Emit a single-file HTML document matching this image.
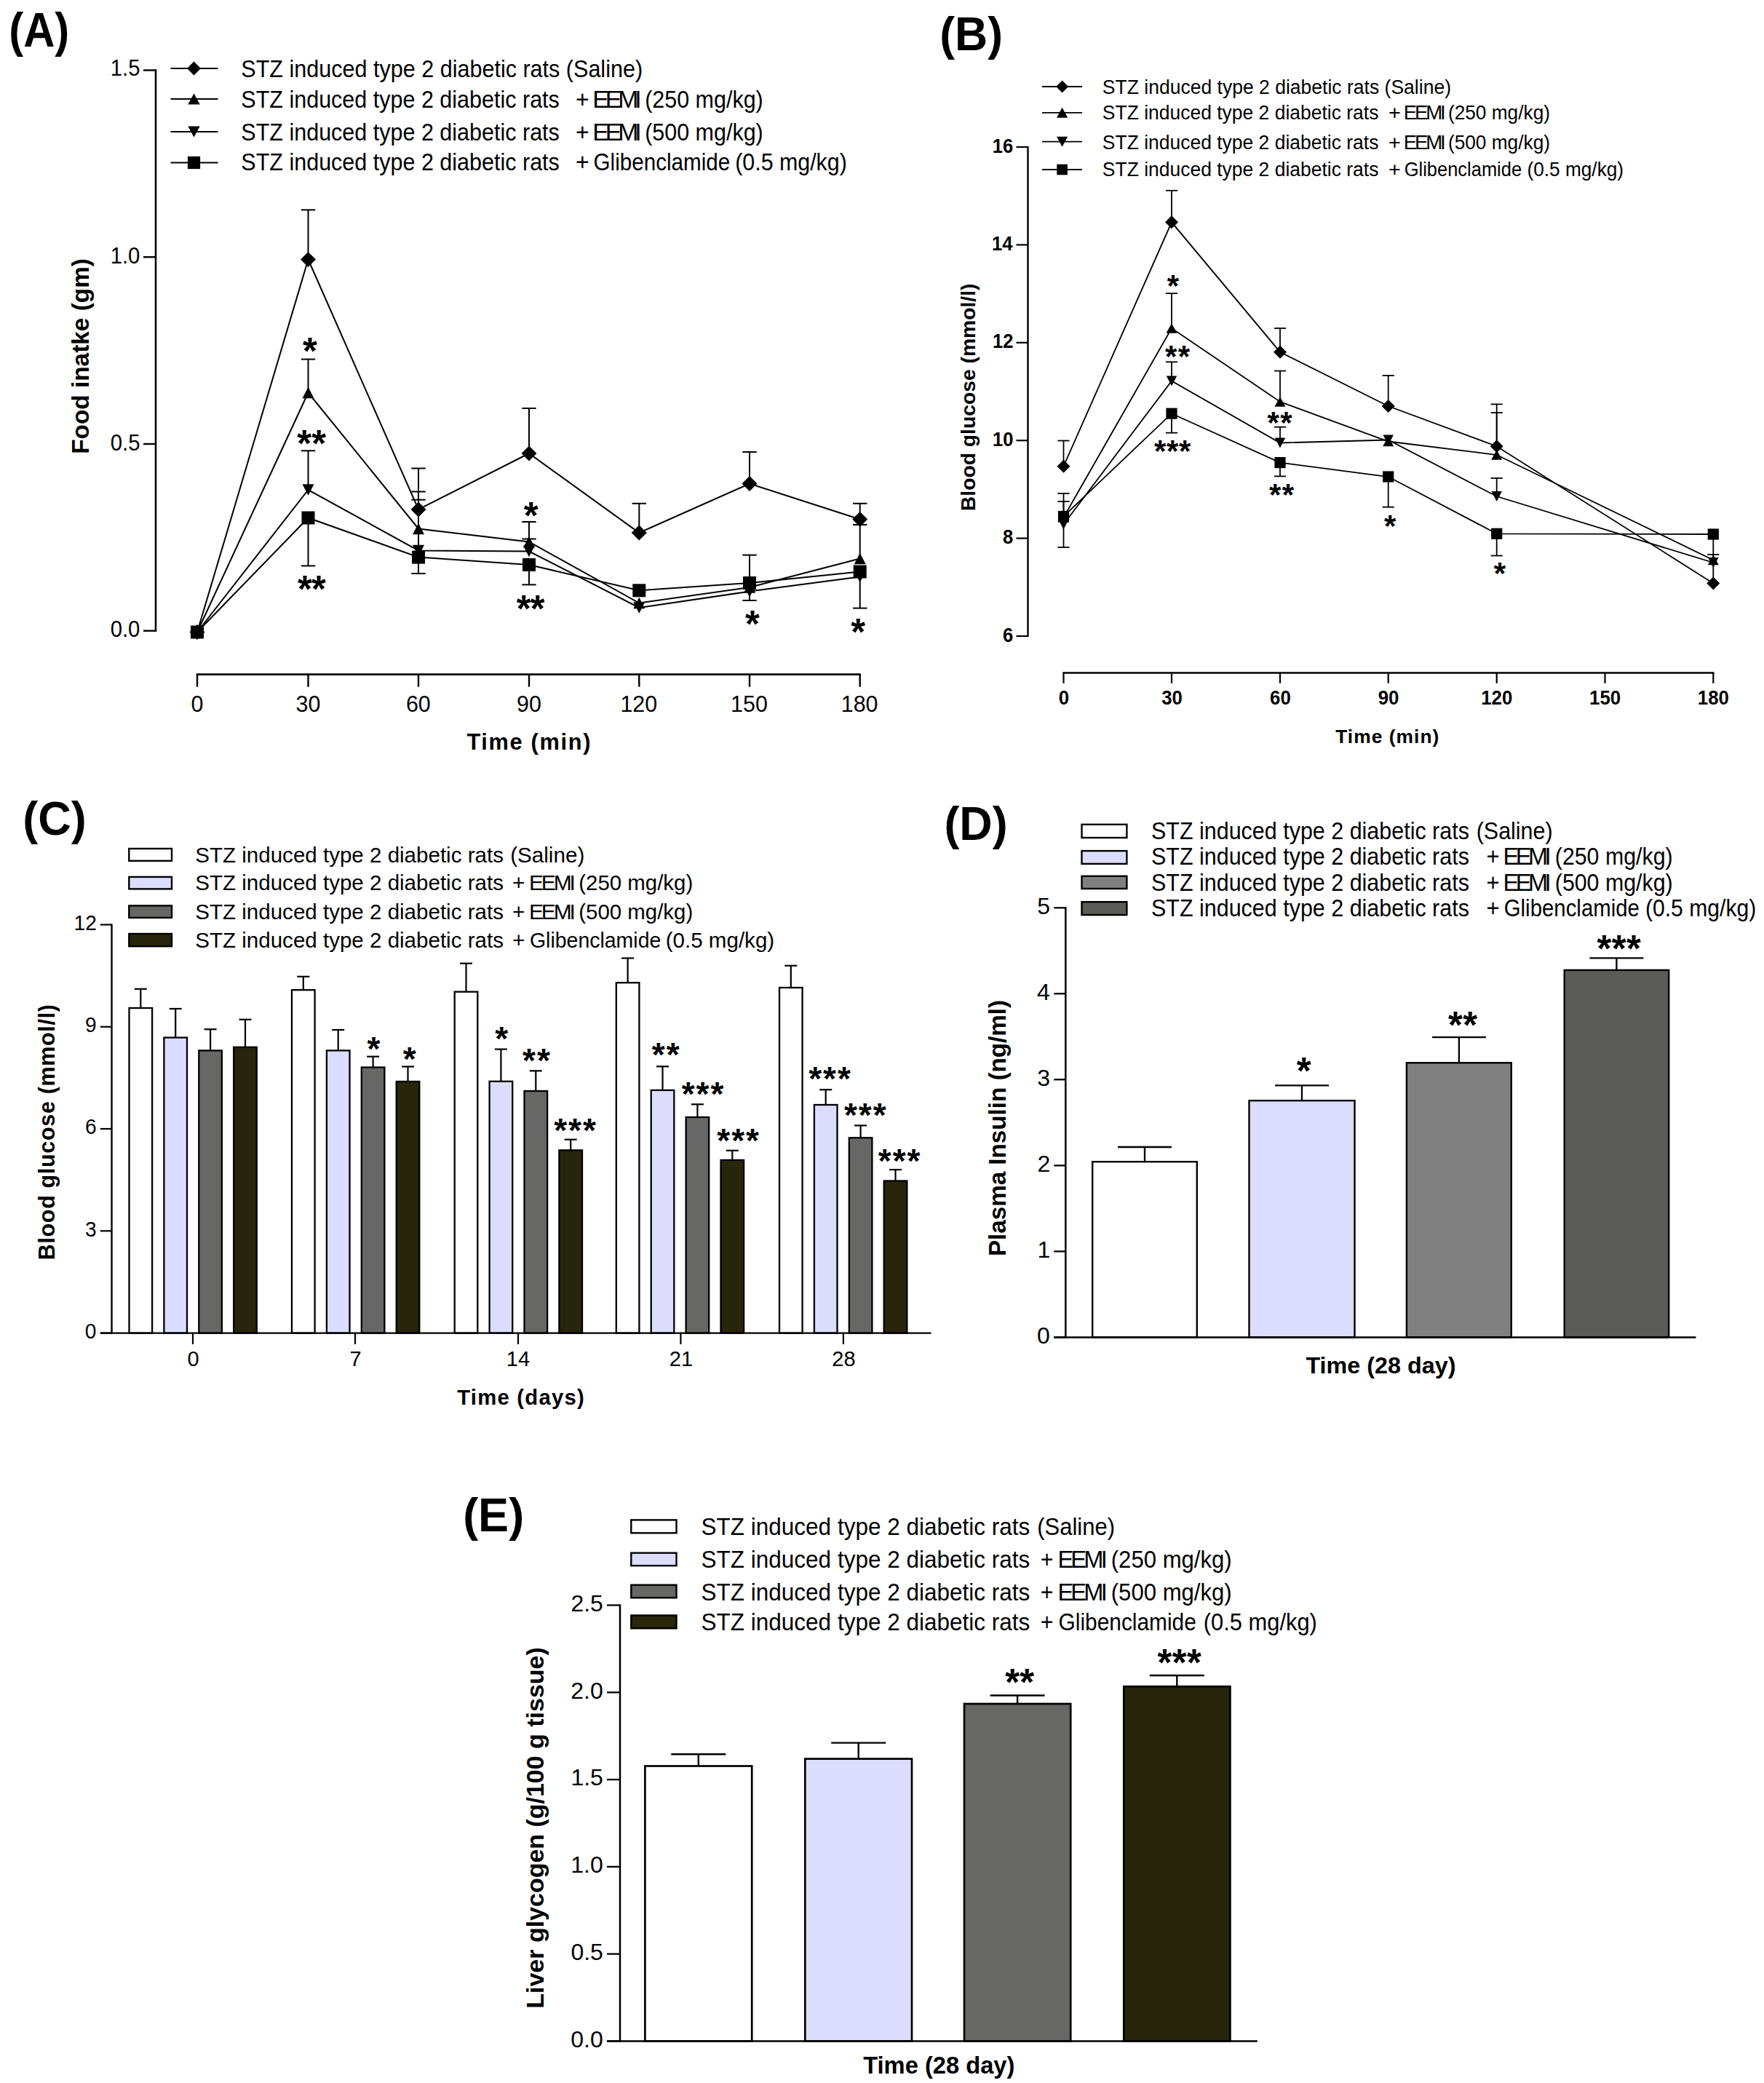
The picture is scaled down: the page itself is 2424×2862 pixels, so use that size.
<!DOCTYPE html>
<html lang="en">
<head>
<meta charset="utf-8">
<title>Figure: effects of EEMI in STZ induced type 2 diabetic rats</title>
<style>
html,body{margin:0;padding:0;background:#fff;}
body{width:2424px;height:2862px;overflow:hidden;}
svg{display:block;}
svg text{font-family:'Liberation Sans', Arial, sans-serif;fill:#000;stroke:none;white-space:pre;}
</style>
</head>
<body>
<svg width="2424" height="2862" viewBox="0 0 2424 2862" stroke="#000" fill="#000">
<rect x="0" y="0" width="2424" height="2862" fill="#fff" stroke="none"/>
<g id="panelA">
<text transform="translate(12.31 63.50) scale(0.8985 1)" font-size="66.52" font-weight="bold">(A)</text>
<line x1="214.0" y1="95.3" x2="214.0" y2="867.9" stroke-width="2.6"/>
<line x1="197.0" y1="866.7" x2="214.0" y2="866.7" stroke-width="2.4"/>
<line x1="197.0" y1="610.0" x2="214.0" y2="610.0" stroke-width="2.4"/>
<line x1="197.0" y1="353.2" x2="214.0" y2="353.2" stroke-width="2.4"/>
<line x1="197.0" y1="96.5" x2="214.0" y2="96.5" stroke-width="2.4"/>
<text transform="translate(151.63 875.40) scale(0.9150 1)" font-size="32.00">0.0</text>
<text transform="translate(151.77 618.67) scale(0.9150 1)" font-size="32.00">0.5</text>
<text transform="translate(151.63 361.93) scale(0.9150 1)" font-size="32.00">1.0</text>
<text transform="translate(151.77 103.70) scale(0.9150 1)" font-size="32.00">1.5</text>
<line x1="269.8" y1="926.6" x2="1182.9" y2="926.6" stroke-width="2.6"/>
<line x1="271.0" y1="926.6" x2="271.0" y2="943.7" stroke-width="2.4"/>
<line x1="423.5" y1="926.6" x2="423.5" y2="943.7" stroke-width="2.4"/>
<line x1="575.0" y1="926.6" x2="575.0" y2="943.7" stroke-width="2.4"/>
<line x1="727.0" y1="926.6" x2="727.0" y2="943.7" stroke-width="2.4"/>
<line x1="878.3" y1="926.6" x2="878.3" y2="943.7" stroke-width="2.4"/>
<line x1="1030.0" y1="926.6" x2="1030.0" y2="943.7" stroke-width="2.4"/>
<line x1="1181.7" y1="926.6" x2="1181.7" y2="943.7" stroke-width="2.4"/>
<text transform="translate(262.49 978.00) scale(0.9500 1)" font-size="32.00">0</text>
<text transform="translate(406.55 978.00) scale(0.9500 1)" font-size="32.00">30</text>
<text transform="translate(557.90 978.00) scale(0.9500 1)" font-size="32.00">60</text>
<text transform="translate(709.98 978.00) scale(0.9500 1)" font-size="32.00">90</text>
<text transform="translate(852.38 978.00) scale(0.9500 1)" font-size="32.00">120</text>
<text transform="translate(1004.08 978.00) scale(0.9500 1)" font-size="32.00">150</text>
<text transform="translate(1155.78 978.00) scale(0.9500 1)" font-size="32.00">180</text>
<text transform="translate(641.39 1030.00)" font-size="30.72" font-weight="bold" letter-spacing="1.699">Time (min)</text>
<text transform="translate(121.80 623.87) rotate(-90) scale(1.0104 1)" font-size="33.04" font-weight="bold">Food inatke (gm)</text>
<line x1="234.5" y1="94.0" x2="299.5" y2="94.0" stroke-width="2.0"/>
<line x1="234.5" y1="136.0" x2="299.5" y2="136.0" stroke-width="2.0"/>
<line x1="234.5" y1="181.0" x2="299.5" y2="181.0" stroke-width="2.0"/>
<line x1="234.5" y1="223.5" x2="299.5" y2="223.5" stroke-width="2.0"/>
<polygon points="257.0,94.0 266.5,84.5 276.0,94.0 266.5,103.5" stroke="none"/>
<polygon points="258.3,143.5 266.5,128.5 274.7,143.5" stroke="none"/>
<polygon points="258.3,173.5 266.5,188.5 274.7,173.5" stroke="none"/>
<rect x="257.9" y="214.9" width="17.2" height="17.2" stroke="none"/>
<text transform="translate(331.32 105.70) scale(0.9066 1)" font-size="33.71">STZ induced type 2 diabetic rats (Saline)</text>
<text transform="translate(331.33 147.80) scale(0.9054 1)" font-size="33.71">STZ induced type 2 diabetic rats</text>
<text transform="translate(790.90 147.80) scale(0.9479 1)" font-size="33.71">+</text>
<text transform="translate(814.30 147.80)" font-size="33.71" letter-spacing="-5.010">EEMI</text>
<text transform="translate(886.17 147.80) scale(0.9043 1)" font-size="33.71">(250 mg/kg)</text>
<text transform="translate(331.33 192.90) scale(0.9054 1)" font-size="33.71">STZ induced type 2 diabetic rats</text>
<text transform="translate(790.90 192.90) scale(0.9479 1)" font-size="33.71">+</text>
<text transform="translate(814.30 192.90)" font-size="33.71" letter-spacing="-5.010">EEMI</text>
<text transform="translate(886.17 192.90) scale(0.9043 1)" font-size="33.71">(500 mg/kg)</text>
<text transform="translate(331.33 233.70) scale(0.9054 1)" font-size="33.71">STZ induced type 2 diabetic rats</text>
<text transform="translate(790.90 233.70) scale(0.9479 1)" font-size="33.71">+</text>
<text transform="translate(815.52 233.70) scale(0.8794 1)" font-size="33.71">Glibenclamide</text>
<text transform="translate(1010.18 233.70) scale(0.9016 1)" font-size="33.71">(0.5 mg/kg)</text>
<line x1="423.5" y1="356.5" x2="423.5" y2="288.4" stroke-width="2.0"/>
<line x1="413.8" y1="288.4" x2="433.2" y2="288.4" stroke-width="2.0"/>
<line x1="575.0" y1="700.0" x2="575.0" y2="643.5" stroke-width="2.0"/>
<line x1="565.3" y1="643.5" x2="584.7" y2="643.5" stroke-width="2.0"/>
<line x1="727.0" y1="623.0" x2="727.0" y2="561.0" stroke-width="2.0"/>
<line x1="717.3" y1="561.0" x2="736.7" y2="561.0" stroke-width="2.0"/>
<line x1="878.3" y1="732.0" x2="878.3" y2="691.8" stroke-width="2.0"/>
<line x1="868.6" y1="691.8" x2="888.0" y2="691.8" stroke-width="2.0"/>
<line x1="1030.0" y1="664.6" x2="1030.0" y2="621.0" stroke-width="2.0"/>
<line x1="1020.3" y1="621.0" x2="1039.7" y2="621.0" stroke-width="2.0"/>
<line x1="1181.7" y1="713.5" x2="1181.7" y2="691.8" stroke-width="2.0"/>
<line x1="1172.0" y1="691.8" x2="1191.4" y2="691.8" stroke-width="2.0"/>
<line x1="423.5" y1="539.5" x2="423.5" y2="493.6" stroke-width="2.0"/>
<line x1="413.8" y1="493.6" x2="433.2" y2="493.6" stroke-width="2.0"/>
<line x1="575.0" y1="726.5" x2="575.0" y2="675.5" stroke-width="2.0"/>
<line x1="565.3" y1="675.5" x2="584.7" y2="675.5" stroke-width="2.0"/>
<line x1="727.0" y1="744.5" x2="727.0" y2="717.0" stroke-width="2.0"/>
<line x1="717.3" y1="717.0" x2="736.7" y2="717.0" stroke-width="2.0"/>
<line x1="1181.7" y1="767.5" x2="1181.7" y2="721.0" stroke-width="2.0"/>
<line x1="1172.0" y1="721.0" x2="1191.4" y2="721.0" stroke-width="2.0"/>
<line x1="423.5" y1="673.0" x2="423.5" y2="619.3" stroke-width="2.0"/>
<line x1="413.8" y1="619.3" x2="433.2" y2="619.3" stroke-width="2.0"/>
<line x1="575.0" y1="756.5" x2="575.0" y2="686.7" stroke-width="2.0"/>
<line x1="565.3" y1="686.7" x2="584.7" y2="686.7" stroke-width="2.0"/>
<line x1="727.0" y1="757.5" x2="727.0" y2="740.5" stroke-width="2.0"/>
<line x1="717.3" y1="740.5" x2="736.7" y2="740.5" stroke-width="2.0"/>
<line x1="1030.0" y1="812.6" x2="1030.0" y2="825.0" stroke-width="2.0"/>
<line x1="1020.3" y1="825.0" x2="1039.7" y2="825.0" stroke-width="2.0"/>
<line x1="423.5" y1="711.5" x2="423.5" y2="777.5" stroke-width="2.0"/>
<line x1="413.8" y1="777.5" x2="433.2" y2="777.5" stroke-width="2.0"/>
<line x1="575.0" y1="765.6" x2="575.0" y2="788.0" stroke-width="2.0"/>
<line x1="565.3" y1="788.0" x2="584.7" y2="788.0" stroke-width="2.0"/>
<line x1="727.0" y1="776.0" x2="727.0" y2="803.4" stroke-width="2.0"/>
<line x1="717.3" y1="803.4" x2="736.7" y2="803.4" stroke-width="2.0"/>
<line x1="1030.0" y1="801.0" x2="1030.0" y2="762.6" stroke-width="2.0"/>
<line x1="1020.3" y1="762.6" x2="1039.7" y2="762.6" stroke-width="2.0"/>
<line x1="1181.7" y1="785.5" x2="1181.7" y2="835.6" stroke-width="2.0"/>
<line x1="1172.0" y1="835.6" x2="1191.4" y2="835.6" stroke-width="2.0"/>
<polyline points="271.0,868.5 423.5,356.5 575.0,700.0 727.0,623.0 878.3,732.0 1030.0,664.6 1181.7,713.5" fill="none" stroke-width="2.0" stroke-linejoin="miter"/>
<polyline points="271.0,868.5 423.5,539.5 575.0,726.5 727.0,744.5 878.3,828.5 1030.0,807.0 1181.7,767.5" fill="none" stroke-width="2.0" stroke-linejoin="miter"/>
<polyline points="271.0,868.5 423.5,673.0 575.0,756.5 727.0,757.5 878.3,835.0 1030.0,812.6 1181.7,792.5" fill="none" stroke-width="2.0" stroke-linejoin="miter"/>
<polyline points="271.0,868.5 423.5,711.5 575.0,765.6 727.0,776.0 878.3,811.3 1030.0,801.0 1181.7,785.5" fill="none" stroke-width="2.0" stroke-linejoin="miter"/>
<polygon points="260.5,868.5 271.0,858.0 281.5,868.5 271.0,879.0" stroke="none"/>
<polygon points="413.0,356.5 423.5,346.0 434.0,356.5 423.5,367.0" stroke="none"/>
<polygon points="564.5,700.0 575.0,689.5 585.5,700.0 575.0,710.5" stroke="none"/>
<polygon points="716.5,623.0 727.0,612.5 737.5,623.0 727.0,633.5" stroke="none"/>
<polygon points="867.8,732.0 878.3,721.5 888.8,732.0 878.3,742.5" stroke="none"/>
<polygon points="1019.5,664.6 1030.0,654.1 1040.5,664.6 1030.0,675.1" stroke="none"/>
<polygon points="1171.2,713.5 1181.7,703.0 1192.2,713.5 1181.7,724.0" stroke="none"/>
<polygon points="263.0,876.2 271.0,860.8 279.0,876.2" stroke="none"/>
<polygon points="415.5,547.2 423.5,531.8 431.5,547.2" stroke="none"/>
<polygon points="567.0,734.2 575.0,718.8 583.0,734.2" stroke="none"/>
<polygon points="719.0,752.2 727.0,736.8 735.0,752.2" stroke="none"/>
<polygon points="870.3,836.2 878.3,820.8 886.3,836.2" stroke="none"/>
<polygon points="1022.0,814.8 1030.0,799.2 1038.0,814.8" stroke="none"/>
<polygon points="1173.7,775.2 1181.7,759.8 1189.7,775.2" stroke="none"/>
<polygon points="263.0,860.8 271.0,876.2 279.0,860.8" stroke="none"/>
<polygon points="415.5,665.2 423.5,680.8 431.5,665.2" stroke="none"/>
<polygon points="567.0,748.8 575.0,764.2 583.0,748.8" stroke="none"/>
<polygon points="719.0,749.8 727.0,765.2 735.0,749.8" stroke="none"/>
<polygon points="870.3,827.2 878.3,842.8 886.3,827.2" stroke="none"/>
<polygon points="1022.0,804.9 1030.0,820.4 1038.0,804.9" stroke="none"/>
<polygon points="1173.7,784.8 1181.7,800.2 1189.7,784.8" stroke="none"/>
<rect x="262.0" y="859.5" width="18.0" height="18.0" stroke="none"/>
<rect x="414.5" y="702.5" width="18.0" height="18.0" stroke="none"/>
<rect x="566.0" y="756.6" width="18.0" height="18.0" stroke="none"/>
<rect x="718.0" y="767.0" width="18.0" height="18.0" stroke="none"/>
<rect x="869.3" y="802.3" width="18.0" height="18.0" stroke="none"/>
<rect x="1021.0" y="792.0" width="18.0" height="18.0" stroke="none"/>
<rect x="1172.7" y="776.5" width="18.0" height="18.0" stroke="none"/>
<text x="416.06" y="500.19" font-size="51" font-weight="bold">*</text>
<text x="408.14 428.26" y="627.19" font-size="51" font-weight="bold">**</text>
<text x="408.94 427.97" y="826.69" font-size="51" font-weight="bold">**</text>
<text x="719.65" y="726.19" font-size="51" font-weight="bold">*</text>
<text x="709.75 728.87" y="853.69" font-size="51" font-weight="bold">**</text>
<text x="1024.05" y="874.69" font-size="51" font-weight="bold">*</text>
<text x="1169.35" y="886.19" font-size="51" font-weight="bold">*</text>
</g>
<g id="panelB">
<text transform="translate(1291.27 69.40) scale(0.9766 1)" font-size="64.06" font-weight="bold">(B)</text>
<line x1="1412.5" y1="200.9" x2="1412.5" y2="875.1" stroke-width="2.4"/>
<line x1="1396.5" y1="874.0" x2="1412.5" y2="874.0" stroke-width="2.2"/>
<line x1="1396.5" y1="739.6" x2="1412.5" y2="739.6" stroke-width="2.2"/>
<line x1="1396.5" y1="605.2" x2="1412.5" y2="605.2" stroke-width="2.2"/>
<line x1="1396.5" y1="470.8" x2="1412.5" y2="470.8" stroke-width="2.2"/>
<line x1="1396.5" y1="336.4" x2="1412.5" y2="336.4" stroke-width="2.2"/>
<line x1="1396.5" y1="202.0" x2="1412.5" y2="202.0" stroke-width="2.2"/>
<text transform="translate(1378.00 881.60) scale(0.9400 1)" font-size="27.20" font-weight="bold">6</text>
<text transform="translate(1377.88 747.20) scale(0.9400 1)" font-size="27.20" font-weight="bold">8</text>
<text transform="translate(1363.94 612.80) scale(0.9400 1)" font-size="27.20" font-weight="bold">10</text>
<text transform="translate(1363.94 478.40) scale(0.9400 1)" font-size="27.20" font-weight="bold">12</text>
<text transform="translate(1363.05 344.00) scale(0.9400 1)" font-size="27.20" font-weight="bold">14</text>
<text transform="translate(1363.81 209.60) scale(0.9400 1)" font-size="27.20" font-weight="bold">16</text>
<line x1="1460.4" y1="924.5" x2="2355.4" y2="924.5" stroke-width="2.4"/>
<line x1="1461.5" y1="924.5" x2="1461.5" y2="938.8" stroke-width="2.2"/>
<line x1="1610.0" y1="924.5" x2="1610.0" y2="938.8" stroke-width="2.2"/>
<line x1="1759.0" y1="924.5" x2="1759.0" y2="938.8" stroke-width="2.2"/>
<line x1="1907.7" y1="924.5" x2="1907.7" y2="938.8" stroke-width="2.2"/>
<line x1="2056.7" y1="924.5" x2="2056.7" y2="938.8" stroke-width="2.2"/>
<line x1="2205.5" y1="924.5" x2="2205.5" y2="938.8" stroke-width="2.2"/>
<line x1="2354.3" y1="924.5" x2="2354.3" y2="938.8" stroke-width="2.2"/>
<text transform="translate(1454.63 968.40) scale(0.9500 1)" font-size="27.20" font-weight="bold">0</text>
<text transform="translate(1596.15 968.40) scale(0.9500 1)" font-size="27.20" font-weight="bold">30</text>
<text transform="translate(1745.02 968.40) scale(0.9500 1)" font-size="27.20" font-weight="bold">60</text>
<text transform="translate(1893.72 968.40) scale(0.9500 1)" font-size="27.20" font-weight="bold">90</text>
<text transform="translate(2035.23 968.40) scale(0.9500 1)" font-size="27.20" font-weight="bold">120</text>
<text transform="translate(2184.03 968.40) scale(0.9500 1)" font-size="27.20" font-weight="bold">150</text>
<text transform="translate(2332.83 968.40) scale(0.9500 1)" font-size="27.20" font-weight="bold">180</text>
<text transform="translate(1835.14 1021.40)" font-size="26.38" font-weight="bold" letter-spacing="1.038">Time (min)</text>
<text transform="translate(1339.50 702.14) rotate(-90) scale(0.9908 1)" font-size="28.55" font-weight="bold">Blood glucose (mmol/l)</text>
<line x1="1432.0" y1="119.0" x2="1487.0" y2="119.0" stroke-width="1.8"/>
<line x1="1432.0" y1="154.8" x2="1487.0" y2="154.8" stroke-width="1.8"/>
<line x1="1432.0" y1="194.7" x2="1487.0" y2="194.7" stroke-width="1.8"/>
<line x1="1432.0" y1="233.0" x2="1487.0" y2="233.0" stroke-width="1.8"/>
<polygon points="1451.1,119.0 1459.6,110.5 1468.1,119.0 1459.6,127.5" stroke="none"/>
<polygon points="1452.0,161.8 1459.6,147.8 1467.2,161.8" stroke="none"/>
<polygon points="1452.0,187.7 1459.6,201.7 1467.2,187.7" stroke="none"/>
<rect x="1452.3" y="225.7" width="14.6" height="14.6" stroke="none"/>
<text transform="translate(1514.81 128.70) scale(0.9625 1)" font-size="27.57">STZ induced type 2 diabetic rats (Saline)</text>
<text transform="translate(1514.81 164.10) scale(0.9607 1)" font-size="27.57">STZ induced type 2 diabetic rats</text>
<text transform="translate(1908.06 164.10) scale(1.0470 1)" font-size="27.57">+</text>
<text transform="translate(1928.79 164.10)" font-size="27.57" letter-spacing="-3.196">EEMI</text>
<text transform="translate(1989.92 164.10) scale(0.9528 1)" font-size="27.57">(250 mg/kg)</text>
<text transform="translate(1514.81 204.90) scale(0.9607 1)" font-size="27.57">STZ induced type 2 diabetic rats</text>
<text transform="translate(1908.06 204.90) scale(1.0470 1)" font-size="27.57">+</text>
<text transform="translate(1928.79 204.90)" font-size="27.57" letter-spacing="-3.196">EEMI</text>
<text transform="translate(1989.92 204.90) scale(0.9528 1)" font-size="27.57">(500 mg/kg)</text>
<text transform="translate(1514.81 241.80) scale(0.9607 1)" font-size="27.57">STZ induced type 2 diabetic rats</text>
<text transform="translate(1908.06 241.80) scale(1.0470 1)" font-size="27.57">+</text>
<text transform="translate(1929.73 241.80) scale(0.9242 1)" font-size="27.57">Glibenclamide</text>
<text transform="translate(2098.43 241.80) scale(0.9518 1)" font-size="27.57">(0.5 mg/kg)</text>
<line x1="1461.5" y1="640.7" x2="1461.5" y2="605.5" stroke-width="1.8"/>
<line x1="1453.4" y1="605.5" x2="1469.6" y2="605.5" stroke-width="1.8"/>
<line x1="1610.0" y1="305.3" x2="1610.0" y2="261.8" stroke-width="1.8"/>
<line x1="1601.9" y1="261.8" x2="1618.1" y2="261.8" stroke-width="1.8"/>
<line x1="1759.0" y1="483.7" x2="1759.0" y2="451.0" stroke-width="1.8"/>
<line x1="1750.9" y1="451.0" x2="1767.1" y2="451.0" stroke-width="1.8"/>
<line x1="1907.7" y1="558.0" x2="1907.7" y2="516.0" stroke-width="1.8"/>
<line x1="1899.6" y1="516.0" x2="1915.8" y2="516.0" stroke-width="1.8"/>
<line x1="2056.7" y1="613.2" x2="2056.7" y2="555.4" stroke-width="1.8"/>
<line x1="2048.6" y1="555.4" x2="2064.8" y2="555.4" stroke-width="1.8"/>
<line x1="1461.5" y1="711.0" x2="1461.5" y2="678.0" stroke-width="1.8"/>
<line x1="1453.4" y1="678.0" x2="1469.6" y2="678.0" stroke-width="1.8"/>
<line x1="1610.0" y1="451.0" x2="1610.0" y2="403.1" stroke-width="1.8"/>
<line x1="1601.9" y1="403.1" x2="1618.1" y2="403.1" stroke-width="1.8"/>
<line x1="1759.0" y1="552.0" x2="1759.0" y2="509.6" stroke-width="1.8"/>
<line x1="1750.9" y1="509.6" x2="1767.1" y2="509.6" stroke-width="1.8"/>
<line x1="2056.7" y1="625.0" x2="2056.7" y2="567.0" stroke-width="1.8"/>
<line x1="2048.6" y1="567.0" x2="2064.8" y2="567.0" stroke-width="1.8"/>
<line x1="2354.3" y1="769.5" x2="2354.3" y2="762.0" stroke-width="1.8"/>
<line x1="2346.2" y1="762.0" x2="2362.4" y2="762.0" stroke-width="1.8"/>
<line x1="1461.5" y1="718.0" x2="1461.5" y2="689.0" stroke-width="1.8"/>
<line x1="1453.4" y1="689.0" x2="1469.6" y2="689.0" stroke-width="1.8"/>
<line x1="1610.0" y1="523.5" x2="1610.0" y2="497.3" stroke-width="1.8"/>
<line x1="1601.9" y1="497.3" x2="1618.1" y2="497.3" stroke-width="1.8"/>
<line x1="1759.0" y1="608.5" x2="1759.0" y2="586.7" stroke-width="1.8"/>
<line x1="1750.9" y1="586.7" x2="1767.1" y2="586.7" stroke-width="1.8"/>
<line x1="2056.7" y1="682.0" x2="2056.7" y2="657.0" stroke-width="1.8"/>
<line x1="2048.6" y1="657.0" x2="2064.8" y2="657.0" stroke-width="1.8"/>
<line x1="1461.5" y1="709.5" x2="1461.5" y2="752.0" stroke-width="1.8"/>
<line x1="1453.4" y1="752.0" x2="1469.6" y2="752.0" stroke-width="1.8"/>
<line x1="1610.0" y1="568.2" x2="1610.0" y2="594.7" stroke-width="1.8"/>
<line x1="1601.9" y1="594.7" x2="1618.1" y2="594.7" stroke-width="1.8"/>
<line x1="1759.0" y1="635.6" x2="1759.0" y2="654.4" stroke-width="1.8"/>
<line x1="1750.9" y1="654.4" x2="1767.1" y2="654.4" stroke-width="1.8"/>
<line x1="1907.7" y1="655.0" x2="1907.7" y2="696.7" stroke-width="1.8"/>
<line x1="1899.6" y1="696.7" x2="1915.8" y2="696.7" stroke-width="1.8"/>
<line x1="2056.7" y1="733.3" x2="2056.7" y2="763.5" stroke-width="1.8"/>
<line x1="2048.6" y1="763.5" x2="2064.8" y2="763.5" stroke-width="1.8"/>
<line x1="2354.3" y1="734.0" x2="2354.3" y2="801.5" stroke-width="1.8"/>
<polyline points="1461.5,640.7 1610.0,305.3 1759.0,483.7 1907.7,558.0 2056.7,613.2 2354.3,801.5" fill="none" stroke-width="1.8" stroke-linejoin="miter"/>
<polyline points="1461.5,711.0 1610.0,451.0 1759.0,552.0 1907.7,606.5 2056.7,625.0 2354.3,769.5" fill="none" stroke-width="1.8" stroke-linejoin="miter"/>
<polyline points="1461.5,720.5 1610.0,523.5 1759.0,608.5 1907.7,604.5 2056.7,682.0 2354.3,773.0" fill="none" stroke-width="1.8" stroke-linejoin="miter"/>
<polyline points="1461.5,709.5 1610.0,568.2 1759.0,635.6 1907.7,655.0 2056.7,733.3 2354.3,734.0" fill="none" stroke-width="1.8" stroke-linejoin="miter"/>
<polygon points="1452.5,640.7 1461.5,631.7 1470.5,640.7 1461.5,649.7" stroke="none"/>
<polygon points="1601.0,305.3 1610.0,296.3 1619.0,305.3 1610.0,314.3" stroke="none"/>
<polygon points="1750.0,483.7 1759.0,474.7 1768.0,483.7 1759.0,492.7" stroke="none"/>
<polygon points="1898.7,558.0 1907.7,549.0 1916.7,558.0 1907.7,567.0" stroke="none"/>
<polygon points="2047.7,613.2 2056.7,604.2 2065.7,613.2 2056.7,622.2" stroke="none"/>
<polygon points="2345.3,801.5 2354.3,792.5 2363.3,801.5 2354.3,810.5" stroke="none"/>
<polygon points="1454.0,717.8 1461.5,704.2 1469.0,717.8" stroke="none"/>
<polygon points="1602.5,457.8 1610.0,444.2 1617.5,457.8" stroke="none"/>
<polygon points="1751.5,558.8 1759.0,545.2 1766.5,558.8" stroke="none"/>
<polygon points="1900.2,613.2 1907.7,599.8 1915.2,613.2" stroke="none"/>
<polygon points="2049.2,631.8 2056.7,618.2 2064.2,631.8" stroke="none"/>
<polygon points="2346.8,776.2 2354.3,762.8 2361.8,776.2" stroke="none"/>
<polygon points="1454.3,713.6 1461.5,727.4 1468.7,713.6" stroke="none"/>
<polygon points="1602.8,516.6 1610.0,530.4 1617.2,516.6" stroke="none"/>
<polygon points="1751.8,601.6 1759.0,615.4 1766.2,601.6" stroke="none"/>
<polygon points="1900.5,597.6 1907.7,611.4 1914.9,597.6" stroke="none"/>
<polygon points="2049.5,675.1 2056.7,688.9 2063.9,675.1" stroke="none"/>
<polygon points="2347.1,766.1 2354.3,779.9 2361.5,766.1" stroke="none"/>
<rect x="1453.9" y="701.9" width="15.2" height="15.2" stroke="none"/>
<rect x="1602.4" y="560.6" width="15.2" height="15.2" stroke="none"/>
<rect x="1751.4" y="628.0" width="15.2" height="15.2" stroke="none"/>
<rect x="1900.1" y="647.4" width="15.2" height="15.2" stroke="none"/>
<rect x="2049.1" y="725.7" width="15.2" height="15.2" stroke="none"/>
<rect x="2346.7" y="726.4" width="15.2" height="15.2" stroke="none"/>
<text x="1603.81" y="407.48" font-size="42" font-weight="bold">*</text>
<text x="1600.99 1618.73" y="504.48" font-size="42" font-weight="bold">**</text>
<text x="1585.99 1603.01 1620.03" y="633.68" font-size="42" font-weight="bold">***</text>
<text x="1741.59 1759.33" y="595.48" font-size="42" font-weight="bold">**</text>
<text x="1743.99 1761.73" y="694.48" font-size="42" font-weight="bold">**</text>
<text x="1902.11" y="737.48" font-size="42" font-weight="bold">*</text>
<text x="2052.81" y="802.48" font-size="42" font-weight="bold">*</text>
</g>
<g id="panelC">
<text transform="translate(31.35 1147.00) scale(0.9717 1)" font-size="64.86" font-weight="bold">(C)</text>
<line x1="193.3" y1="1385.0" x2="193.3" y2="1358.8" stroke-width="2.2"/>
<line x1="184.8" y1="1358.8" x2="201.8" y2="1358.8" stroke-width="2.2"/>
<rect x="177.5" y="1385.0" width="31.6" height="446.6" fill="#fff" stroke-width="2.3"/>
<line x1="241.2" y1="1425.6" x2="241.2" y2="1386.0" stroke-width="2.2"/>
<line x1="232.7" y1="1386.0" x2="249.7" y2="1386.0" stroke-width="2.2"/>
<rect x="225.4" y="1425.6" width="31.6" height="406.0" fill="#dcdcfe" stroke-width="2.3"/>
<line x1="289.1" y1="1443.4" x2="289.1" y2="1414.2" stroke-width="2.2"/>
<line x1="280.6" y1="1414.2" x2="297.6" y2="1414.2" stroke-width="2.2"/>
<rect x="273.3" y="1443.4" width="31.6" height="388.2" fill="#676765" stroke-width="2.3"/>
<line x1="337.0" y1="1438.8" x2="337.0" y2="1400.8" stroke-width="2.2"/>
<line x1="328.5" y1="1400.8" x2="345.5" y2="1400.8" stroke-width="2.2"/>
<rect x="321.2" y="1438.8" width="31.6" height="392.8" fill="#27260b" stroke-width="2.3"/>
<line x1="416.8" y1="1360.2" x2="416.8" y2="1341.8" stroke-width="2.2"/>
<line x1="408.3" y1="1341.8" x2="425.3" y2="1341.8" stroke-width="2.2"/>
<rect x="401.0" y="1360.2" width="31.6" height="471.4" fill="#fff" stroke-width="2.3"/>
<line x1="464.7" y1="1443.4" x2="464.7" y2="1415.0" stroke-width="2.2"/>
<line x1="456.2" y1="1415.0" x2="473.2" y2="1415.0" stroke-width="2.2"/>
<rect x="448.9" y="1443.4" width="31.6" height="388.2" fill="#dcdcfe" stroke-width="2.3"/>
<line x1="512.6" y1="1466.5" x2="512.6" y2="1451.7" stroke-width="2.2"/>
<line x1="504.1" y1="1451.7" x2="521.1" y2="1451.7" stroke-width="2.2"/>
<rect x="496.8" y="1466.5" width="31.6" height="365.1" fill="#676765" stroke-width="2.3"/>
<text x="504.53" y="1457.24" font-size="46" font-weight="bold">*</text>
<line x1="560.5" y1="1486.0" x2="560.5" y2="1465.5" stroke-width="2.2"/>
<line x1="552.0" y1="1465.5" x2="569.0" y2="1465.5" stroke-width="2.2"/>
<rect x="544.7" y="1486.0" width="31.6" height="345.6" fill="#27260b" stroke-width="2.3"/>
<text x="553.83" y="1471.24" font-size="46" font-weight="bold">*</text>
<line x1="640.5" y1="1362.7" x2="640.5" y2="1323.7" stroke-width="2.2"/>
<line x1="632.0" y1="1323.7" x2="649.0" y2="1323.7" stroke-width="2.2"/>
<rect x="624.7" y="1362.7" width="31.6" height="468.9" fill="#fff" stroke-width="2.3"/>
<line x1="688.4" y1="1485.8" x2="688.4" y2="1441.6" stroke-width="2.2"/>
<line x1="679.9" y1="1441.6" x2="696.9" y2="1441.6" stroke-width="2.2"/>
<rect x="672.6" y="1485.8" width="31.6" height="345.8" fill="#dcdcfe" stroke-width="2.3"/>
<text x="680.23" y="1443.24" font-size="46" font-weight="bold">*</text>
<line x1="736.3" y1="1499.0" x2="736.3" y2="1471.3" stroke-width="2.2"/>
<line x1="727.8" y1="1471.3" x2="744.8" y2="1471.3" stroke-width="2.2"/>
<rect x="720.5" y="1499.0" width="31.6" height="332.6" fill="#676765" stroke-width="2.3"/>
<text x="718.12 737.94" y="1473.24" font-size="46" font-weight="bold">**</text>
<line x1="784.2" y1="1580.4" x2="784.2" y2="1565.7" stroke-width="2.2"/>
<line x1="775.7" y1="1565.7" x2="792.7" y2="1565.7" stroke-width="2.2"/>
<rect x="768.4" y="1580.4" width="31.6" height="251.2" fill="#27260b" stroke-width="2.3"/>
<text x="761.17 781.03 800.89" y="1568.74" font-size="46" font-weight="bold">***</text>
<line x1="862.6" y1="1350.2" x2="862.6" y2="1316.5" stroke-width="2.2"/>
<line x1="854.1" y1="1316.5" x2="871.1" y2="1316.5" stroke-width="2.2"/>
<rect x="846.8" y="1350.2" width="31.6" height="481.4" fill="#fff" stroke-width="2.3"/>
<line x1="910.5" y1="1497.9" x2="910.5" y2="1465.3" stroke-width="2.2"/>
<line x1="902.0" y1="1465.3" x2="919.0" y2="1465.3" stroke-width="2.2"/>
<rect x="894.7" y="1497.9" width="31.6" height="333.7" fill="#dcdcfe" stroke-width="2.3"/>
<text x="895.82 915.64" y="1465.24" font-size="46" font-weight="bold">**</text>
<line x1="958.4" y1="1535.0" x2="958.4" y2="1517.3" stroke-width="2.2"/>
<line x1="949.9" y1="1517.3" x2="966.9" y2="1517.3" stroke-width="2.2"/>
<rect x="942.6" y="1535.0" width="31.6" height="296.6" fill="#676765" stroke-width="2.3"/>
<text x="936.67 956.53 976.39" y="1519.04" font-size="46" font-weight="bold">***</text>
<line x1="1006.3" y1="1593.9" x2="1006.3" y2="1580.8" stroke-width="2.2"/>
<line x1="997.8" y1="1580.8" x2="1014.8" y2="1580.8" stroke-width="2.2"/>
<rect x="990.5" y="1593.9" width="31.6" height="237.7" fill="#27260b" stroke-width="2.3"/>
<text x="985.37 1005.23 1025.09" y="1582.54" font-size="46" font-weight="bold">***</text>
<line x1="1086.8" y1="1357.0" x2="1086.8" y2="1326.8" stroke-width="2.2"/>
<line x1="1078.3" y1="1326.8" x2="1095.3" y2="1326.8" stroke-width="2.2"/>
<rect x="1071.0" y="1357.0" width="31.6" height="474.6" fill="#fff" stroke-width="2.3"/>
<line x1="1134.7" y1="1518.0" x2="1134.7" y2="1497.2" stroke-width="2.2"/>
<line x1="1126.2" y1="1497.2" x2="1143.2" y2="1497.2" stroke-width="2.2"/>
<rect x="1118.9" y="1518.0" width="31.6" height="313.6" fill="#dcdcfe" stroke-width="2.3"/>
<text x="1111.17 1131.03 1150.89" y="1497.54" font-size="46" font-weight="bold">***</text>
<line x1="1182.6" y1="1563.3" x2="1182.6" y2="1546.4" stroke-width="2.2"/>
<line x1="1174.1" y1="1546.4" x2="1191.1" y2="1546.4" stroke-width="2.2"/>
<rect x="1166.8" y="1563.3" width="31.6" height="268.3" fill="#676765" stroke-width="2.3"/>
<text x="1159.97 1179.83 1199.69" y="1548.04" font-size="46" font-weight="bold">***</text>
<line x1="1230.5" y1="1622.5" x2="1230.5" y2="1607.1" stroke-width="2.2"/>
<line x1="1222.0" y1="1607.1" x2="1239.0" y2="1607.1" stroke-width="2.2"/>
<rect x="1214.7" y="1622.5" width="31.6" height="209.1" fill="#27260b" stroke-width="2.3"/>
<text x="1206.87 1226.73 1246.59" y="1610.74" font-size="46" font-weight="bold">***</text>
<line x1="153.5" y1="1269.4" x2="153.5" y2="1832.7" stroke-width="2.4"/>
<line x1="137.8" y1="1831.6" x2="153.5" y2="1831.6" stroke-width="2.2"/>
<line x1="137.8" y1="1691.3" x2="153.5" y2="1691.3" stroke-width="2.2"/>
<line x1="137.8" y1="1551.0" x2="153.5" y2="1551.0" stroke-width="2.2"/>
<line x1="137.8" y1="1410.8" x2="153.5" y2="1410.8" stroke-width="2.2"/>
<line x1="137.8" y1="1270.5" x2="153.5" y2="1270.5" stroke-width="2.2"/>
<text transform="translate(116.77 1838.90) scale(0.9700 1)" font-size="29.00">0</text>
<text transform="translate(116.91 1698.62) scale(0.9700 1)" font-size="29.00">3</text>
<text transform="translate(116.91 1558.35) scale(0.9700 1)" font-size="29.00">6</text>
<text transform="translate(117.05 1418.07) scale(0.9700 1)" font-size="29.00">9</text>
<text transform="translate(101.58 1277.80) scale(0.9700 1)" font-size="29.00">12</text>
<line x1="137.8" y1="1831.6" x2="1279.5" y2="1831.6" stroke-width="2.4"/>
<line x1="265.0" y1="1831.6" x2="265.0" y2="1847.0" stroke-width="2.2"/>
<line x1="488.0" y1="1831.6" x2="488.0" y2="1847.0" stroke-width="2.2"/>
<line x1="712.0" y1="1831.6" x2="712.0" y2="1847.0" stroke-width="2.2"/>
<line x1="935.4" y1="1831.6" x2="935.4" y2="1847.0" stroke-width="2.2"/>
<line x1="1158.9" y1="1831.6" x2="1158.9" y2="1847.0" stroke-width="2.2"/>
<text transform="translate(257.48 1876.60)" font-size="29.00">0</text>
<text transform="translate(480.55 1876.60)" font-size="29.00">7</text>
<text transform="translate(695.85 1876.60)" font-size="29.00">14</text>
<text transform="translate(919.83 1876.60)" font-size="29.00">21</text>
<text transform="translate(1143.26 1876.60)" font-size="29.00">28</text>
<text transform="translate(628.21 1929.60)" font-size="29.28" font-weight="bold" letter-spacing="1.247">Time (days)</text>
<text transform="translate(74.80 1731.28) rotate(-90)" font-size="30.43" font-weight="bold" letter-spacing="0.709">Blood glucose (mmol/l)</text>
<rect x="177.3" y="1166.0" width="58.7" height="16.8" fill="#fff" stroke-width="2.4"/>
<rect x="177.3" y="1204.9" width="58.7" height="16.5" fill="#dcdcfe" stroke-width="2.4"/>
<rect x="177.3" y="1244.4" width="58.7" height="16.5" fill="#676765" stroke-width="2.4"/>
<rect x="177.3" y="1283.0" width="58.7" height="17.2" fill="#27260b" stroke-width="2.4"/>
<text transform="translate(268.27 1185.10) scale(0.9850 1)" font-size="30.00">STZ induced type 2 diabetic rats</text>
<text transform="translate(701.22 1185.10) scale(0.9875 1)" font-size="30.00">(Saline)</text>
<text transform="translate(268.27 1223.30) scale(0.9850 1)" font-size="30.00">STZ induced type 2 diabetic rats</text>
<text transform="translate(704.12 1223.30) scale(0.9897 1)" font-size="30.00">+</text>
<text transform="translate(727.00 1223.30)" font-size="30.00" letter-spacing="-3.167">EEMI</text>
<text transform="translate(795.23 1223.30) scale(0.9811 1)" font-size="30.00">(250 mg/kg)</text>
<text transform="translate(268.27 1263.20) scale(0.9850 1)" font-size="30.00">STZ induced type 2 diabetic rats</text>
<text transform="translate(704.12 1263.20) scale(0.9897 1)" font-size="30.00">+</text>
<text transform="translate(727.00 1263.20)" font-size="30.00" letter-spacing="-3.167">EEMI</text>
<text transform="translate(795.23 1263.20) scale(0.9811 1)" font-size="30.00">(500 mg/kg)</text>
<text transform="translate(268.27 1301.70) scale(0.9850 1)" font-size="30.00">STZ induced type 2 diabetic rats</text>
<text transform="translate(704.12 1301.70) scale(0.9897 1)" font-size="30.00">+</text>
<text transform="translate(727.98 1301.70) scale(0.9487 1)" font-size="30.00">Glibenclamide</text>
<text transform="translate(914.73 1301.70) scale(0.9855 1)" font-size="30.00">(0.5 mg/kg)</text>
</g>
<g id="panelD">
<text transform="translate(1297.46 1153.80) scale(0.9780 1)" font-size="64.20" font-weight="bold">(D)</text>
<line x1="1573.0" y1="1596.2" x2="1573.0" y2="1576.0" stroke-width="2.3"/>
<line x1="1536.0" y1="1576.0" x2="1610.0" y2="1576.0" stroke-width="2.3"/>
<rect x="1501.2" y="1596.2" width="143.6" height="241.2" fill="#fff" stroke-width="2.4"/>
<line x1="1789.0" y1="1512.2" x2="1789.0" y2="1491.4" stroke-width="2.3"/>
<line x1="1752.0" y1="1491.4" x2="1826.0" y2="1491.4" stroke-width="2.3"/>
<rect x="1716.5" y="1512.2" width="145.0" height="325.2" fill="#dcdcfe" stroke-width="2.4"/>
<text x="1781.85" y="1488.69" font-size="51" font-weight="bold">*</text>
<line x1="2004.9" y1="1460.3" x2="2004.9" y2="1425.2" stroke-width="2.3"/>
<line x1="1967.9" y1="1425.2" x2="2041.9" y2="1425.2" stroke-width="2.3"/>
<rect x="1932.9" y="1460.3" width="143.9" height="377.1" fill="#808080" stroke-width="2.4"/>
<text x="1990.04 2010.26" y="1426.19" font-size="51" font-weight="bold">**</text>
<line x1="2221.4" y1="1332.9" x2="2221.4" y2="1316.3" stroke-width="2.3"/>
<line x1="2184.4" y1="1316.3" x2="2258.4" y2="1316.3" stroke-width="2.3"/>
<rect x="2149.7" y="1332.9" width="143.5" height="504.5" fill="#5b5b57" stroke-width="2.4"/>
<text x="2194.60 2214.86 2235.11" y="1320.59" font-size="51" font-weight="bold">***</text>
<line x1="1464.3" y1="1246.1" x2="1464.3" y2="1838.6" stroke-width="2.5"/>
<line x1="1448.3" y1="1837.4" x2="1464.3" y2="1837.4" stroke-width="2.3"/>
<line x1="1448.3" y1="1719.4" x2="1464.3" y2="1719.4" stroke-width="2.3"/>
<line x1="1448.3" y1="1601.4" x2="1464.3" y2="1601.4" stroke-width="2.3"/>
<line x1="1448.3" y1="1483.3" x2="1464.3" y2="1483.3" stroke-width="2.3"/>
<line x1="1448.3" y1="1365.3" x2="1464.3" y2="1365.3" stroke-width="2.3"/>
<line x1="1448.3" y1="1247.3" x2="1464.3" y2="1247.3" stroke-width="2.3"/>
<text transform="translate(1425.06 1846.20)" font-size="32.00">0</text>
<text transform="translate(1425.38 1728.18)" font-size="32.00">1</text>
<text transform="translate(1425.54 1610.16)" font-size="32.00">2</text>
<text transform="translate(1425.22 1492.14)" font-size="32.00">3</text>
<text transform="translate(1424.90 1374.12)" font-size="32.00">4</text>
<text transform="translate(1425.22 1256.10)" font-size="32.00">5</text>
<line x1="1448.3" y1="1837.4" x2="2330.5" y2="1837.4" stroke-width="2.5"/>
<text transform="translate(1794.38 1887.30) scale(1.0147 1)" font-size="31.88" font-weight="bold">Time (28 day)</text>
<text transform="translate(1381.90 1726.06) rotate(-90)" font-size="33.19" font-weight="bold">Plasma Insulin (ng/ml)</text>
<rect x="1486.5" y="1132.8" width="61.9" height="18.2" fill="#fff" stroke-width="2.4"/>
<rect x="1486.5" y="1169.1" width="61.9" height="17.8" fill="#dcdcfe" stroke-width="2.4"/>
<rect x="1486.5" y="1203.8" width="61.9" height="17.2" fill="#808080" stroke-width="2.4"/>
<rect x="1486.5" y="1239.2" width="61.9" height="17.9" fill="#5b5b57" stroke-width="2.4"/>
<text transform="translate(1582.03 1152.90) scale(0.9398 1)" font-size="32.43">STZ induced type 2 diabetic rats</text>
<text transform="translate(2028.67 1152.90) scale(0.9395 1)" font-size="32.43">(Saline)</text>
<text transform="translate(1582.03 1188.20) scale(0.9398 1)" font-size="32.43">STZ induced type 2 diabetic rats</text>
<text transform="translate(2042.45 1188.20) scale(0.9537 1)" font-size="32.43">+</text>
<text transform="translate(2065.61 1188.20)" font-size="32.43" letter-spacing="-4.471">EEMI</text>
<text transform="translate(2136.78 1188.20) scale(0.9355 1)" font-size="32.43">(250 mg/kg)</text>
<text transform="translate(1582.03 1223.50) scale(0.9398 1)" font-size="32.43">STZ induced type 2 diabetic rats</text>
<text transform="translate(2042.45 1223.50) scale(0.9537 1)" font-size="32.43">+</text>
<text transform="translate(2065.61 1223.50)" font-size="32.43" letter-spacing="-4.471">EEMI</text>
<text transform="translate(2136.78 1223.50) scale(0.9355 1)" font-size="32.43">(500 mg/kg)</text>
<text transform="translate(1582.03 1258.90) scale(0.9398 1)" font-size="32.43">STZ induced type 2 diabetic rats</text>
<text transform="translate(2042.45 1258.90) scale(0.9537 1)" font-size="32.43">+</text>
<text transform="translate(2066.73 1258.90) scale(0.9063 1)" font-size="32.43">Glibenclamide</text>
<text transform="translate(2260.99 1258.90) scale(0.9285 1)" font-size="32.43">(0.5 mg/kg)</text>
</g>
<g id="panelE">
<text transform="translate(636.15 2104.00) scale(0.9595 1)" font-size="65.65" font-weight="bold">(E)</text>
<line x1="959.8" y1="2426.5" x2="959.8" y2="2410.2" stroke-width="2.4"/>
<line x1="922.3" y1="2410.2" x2="997.3" y2="2410.2" stroke-width="2.4"/>
<rect x="886.4" y="2426.5" width="146.8" height="378.0" fill="#fff" stroke-width="2.7"/>
<line x1="1179.7" y1="2416.6" x2="1179.7" y2="2394.6" stroke-width="2.4"/>
<line x1="1142.2" y1="2394.6" x2="1217.2" y2="2394.6" stroke-width="2.4"/>
<rect x="1106.3" y="2416.6" width="146.7" height="387.9" fill="#dcdcfe" stroke-width="2.7"/>
<line x1="1398.1" y1="2341.0" x2="1398.1" y2="2329.5" stroke-width="2.4"/>
<line x1="1360.6" y1="2329.5" x2="1435.6" y2="2329.5" stroke-width="2.4"/>
<rect x="1325.0" y="2341.0" width="146.2" height="463.5" fill="#676765" stroke-width="2.7"/>
<text x="1381.14 1401.36" y="2329.19" font-size="51" font-weight="bold">**</text>
<line x1="1617.3" y1="2317.2" x2="1617.3" y2="2302.0" stroke-width="2.4"/>
<line x1="1579.8" y1="2302.0" x2="1654.8" y2="2302.0" stroke-width="2.4"/>
<rect x="1544.3" y="2317.2" width="146.1" height="487.3" fill="#27260b" stroke-width="2.7"/>
<text x="1590.39 1610.65 1630.91" y="2302.19" font-size="51" font-weight="bold">***</text>
<line x1="852.0" y1="2204.3" x2="852.0" y2="2805.7" stroke-width="2.5"/>
<line x1="834.0" y1="2804.5" x2="852.0" y2="2804.5" stroke-width="2.3"/>
<line x1="834.0" y1="2684.7" x2="852.0" y2="2684.7" stroke-width="2.3"/>
<line x1="834.0" y1="2564.9" x2="852.0" y2="2564.9" stroke-width="2.3"/>
<line x1="834.0" y1="2445.1" x2="852.0" y2="2445.1" stroke-width="2.3"/>
<line x1="834.0" y1="2325.3" x2="852.0" y2="2325.3" stroke-width="2.3"/>
<line x1="834.0" y1="2205.5" x2="852.0" y2="2205.5" stroke-width="2.3"/>
<text transform="translate(784.24 2812.80)" font-size="32.00">0.0</text>
<text transform="translate(784.40 2693.00)" font-size="32.00">0.5</text>
<text transform="translate(784.24 2573.20)" font-size="32.00">1.0</text>
<text transform="translate(784.40 2453.40)" font-size="32.00">1.5</text>
<text transform="translate(784.24 2333.60)" font-size="32.00">2.0</text>
<text transform="translate(784.40 2213.80)" font-size="32.00">2.5</text>
<line x1="834.0" y1="2804.5" x2="1727.8" y2="2804.5" stroke-width="2.5"/>
<text transform="translate(1186.17 2848.60) scale(0.9721 1)" font-size="33.62" font-weight="bold">Time (28 day)</text>
<text transform="translate(746.50 2759.71) rotate(-90) scale(1.0237 1)" font-size="33.19" font-weight="bold">Liver glycogen (g/100 g tissue)</text>
<rect x="867.3" y="2088.4" width="62.2" height="17.9" fill="#fff" stroke-width="2.4"/>
<rect x="867.3" y="2133.7" width="62.2" height="17.5" fill="#dcdcfe" stroke-width="2.4"/>
<rect x="867.3" y="2177.7" width="62.2" height="17.6" fill="#676765" stroke-width="2.4"/>
<rect x="867.3" y="2219.5" width="62.2" height="17.8" fill="#27260b" stroke-width="2.4"/>
<text transform="translate(963.58 2108.70) scale(0.9673 1)" font-size="32.57">STZ induced type 2 diabetic rats</text>
<text transform="translate(1425.14 2108.70) scale(0.9529 1)" font-size="32.57">(Saline)</text>
<text transform="translate(963.58 2153.80) scale(0.9673 1)" font-size="32.57">STZ induced type 2 diabetic rats</text>
<text transform="translate(1429.78 2153.80) scale(0.9305 1)" font-size="32.57">+</text>
<text transform="translate(1453.39 2153.80)" font-size="32.57" letter-spacing="-3.746">EEMI</text>
<text transform="translate(1526.73 2153.80) scale(0.9555 1)" font-size="32.57">(250 mg/kg)</text>
<text transform="translate(963.58 2198.70) scale(0.9673 1)" font-size="32.57">STZ induced type 2 diabetic rats</text>
<text transform="translate(1429.78 2198.70) scale(0.9305 1)" font-size="32.57">+</text>
<text transform="translate(1453.39 2198.70)" font-size="32.57" letter-spacing="-3.746">EEMI</text>
<text transform="translate(1526.73 2198.70) scale(0.9555 1)" font-size="32.57">(500 mg/kg)</text>
<text transform="translate(963.58 2240.30) scale(0.9673 1)" font-size="32.57">STZ induced type 2 diabetic rats</text>
<text transform="translate(1429.78 2240.30) scale(0.9305 1)" font-size="32.57">+</text>
<text transform="translate(1454.51 2240.30) scale(0.9176 1)" font-size="32.57">Glibenclamide</text>
<text transform="translate(1653.75 2240.30) scale(0.9481 1)" font-size="32.57">(0.5 mg/kg)</text>
</g>
</svg>
</body>
</html>
